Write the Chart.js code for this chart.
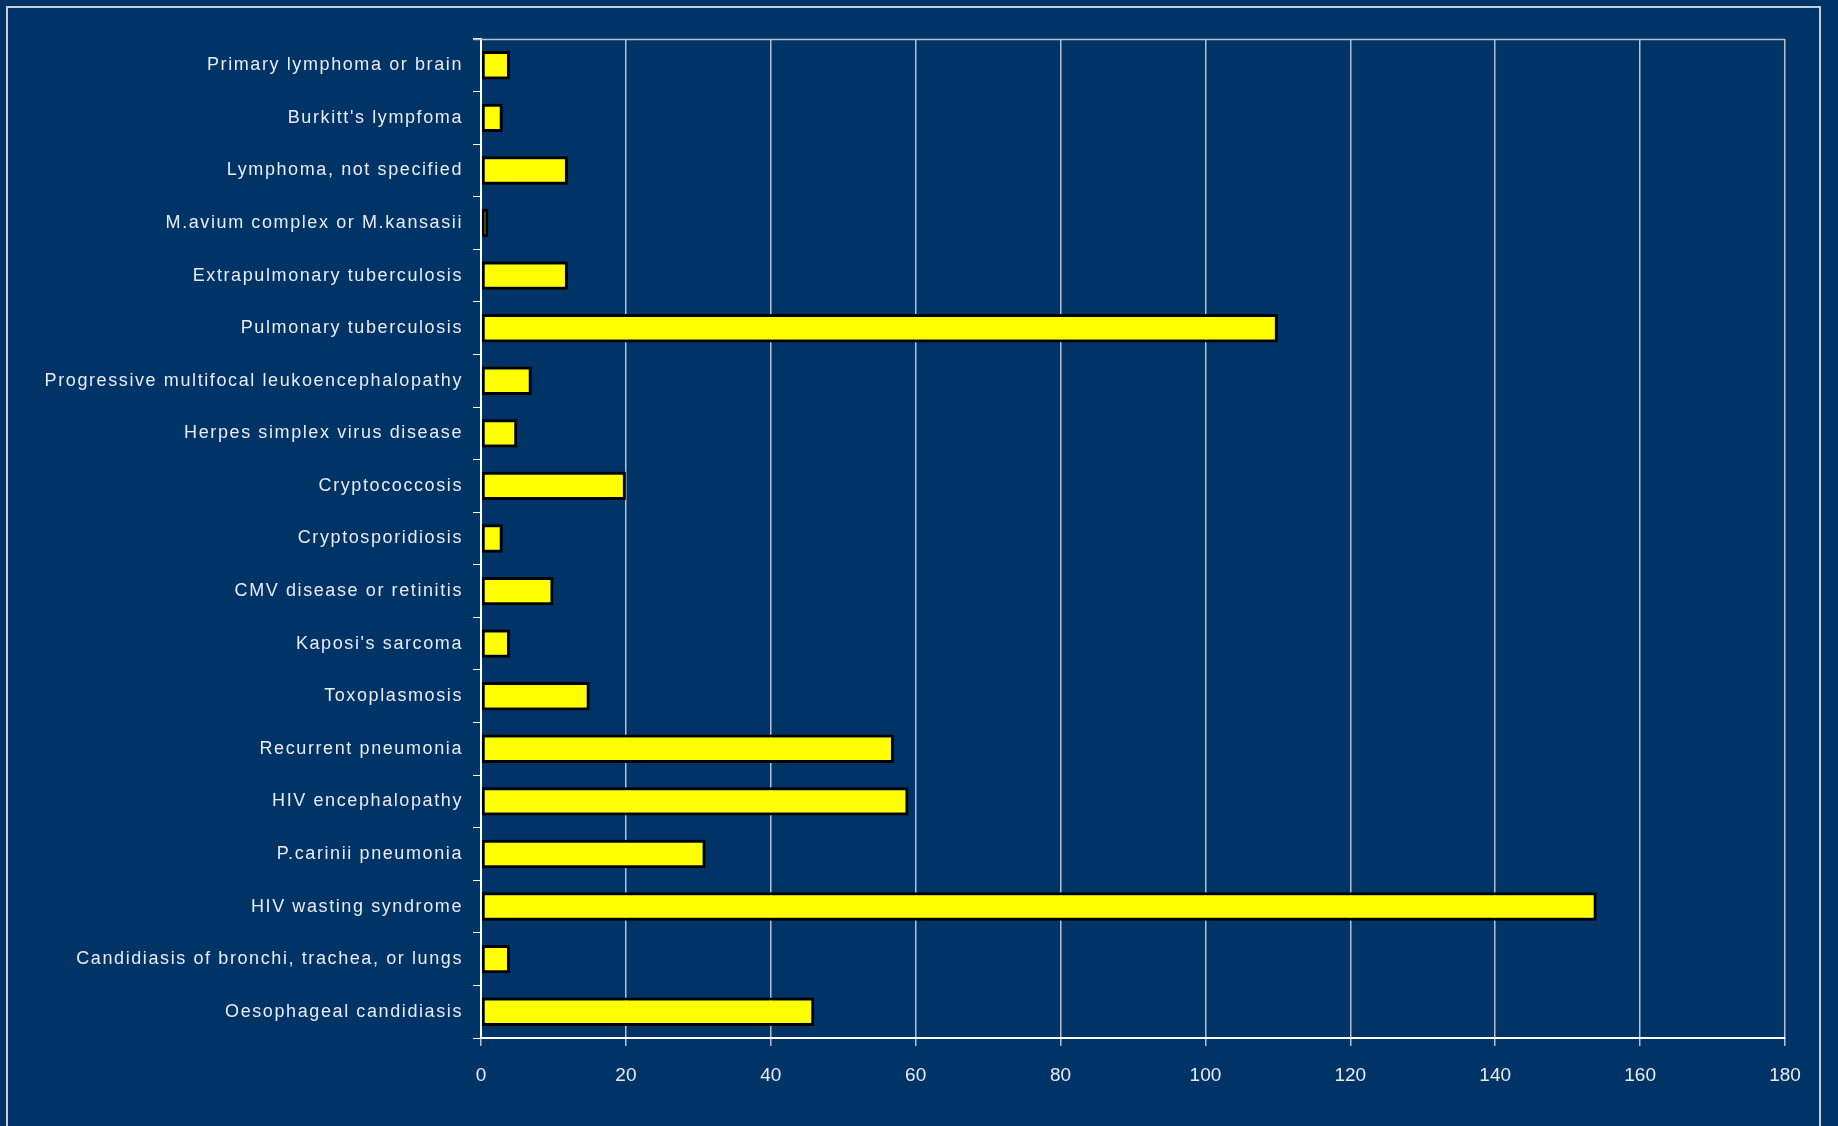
<!DOCTYPE html>
<html>
<head>
<meta charset="utf-8">
<script src="https://cdn.jsdelivr.net/npm/chart.js@4.4.0/dist/chart.umd.min.js"></script>
<style>
  html, body { margin: 0; padding: 0; background: #003366; }
  #wrap { width: 1838px; height: 1126px; }
</style>
</head>
<body>
<div id="wrap"><canvas id="aidsChart" width="1838" height="1126"></canvas></div>
<script>
var categories = [
    'Primary lymphoma or brain',
    "Burkitt's lympfoma",
    'Lymphoma, not specified',
    'M.avium complex or M.kansasii',
    'Extrapulmonary tuberculosis',
    'Pulmonary tuberculosis',
    'Progressive multifocal leukoencephalopathy',
    'Herpes simplex virus disease',
    'Cryptococcosis',
    'Cryptosporidiosis',
    'CMV disease or retinitis',
    "Kaposi's sarcoma",
    'Toxoplasmosis',
    'Recurrent pneumonia',
    'HIV encephalopathy',
    'P.carinii pneumonia',
    'HIV wasting syndrome',
    'Candidiasis of bronchi, trachea, or lungs',
    'Oesophageal candidiasis'
];
var cases = [4, 3, 12, 1, 12, 110, 7, 5, 20, 3, 10, 4, 15, 57, 59, 31, 154, 4, 46];
var xTicks = [0, 20, 40, 60, 80, 100, 120, 140, 160, 180];

var textColor = '#e8ecf4';
var gridColor = '#b4c0d4';
var labelFont = { family: "'Liberation Sans', Arial, sans-serif", size: 18 };

// frame round the picture, top edge of the plot, x tick labels (no letter spacing)
var framePlugin = {
    id: 'frame',
    beforeDraw: function(chart) {
        var ctx = chart.ctx;
        ctx.save();
        ctx.fillStyle = '#003366';
        ctx.fillRect(0, 0, chart.width, chart.height);
        ctx.strokeStyle = '#c8ccd4';
        ctx.lineWidth = 2;
        ctx.strokeRect(7, 7, 1813, 1140);
        ctx.restore();
        ctx.letterSpacing = '1.6px';
    },
    afterDraw: function(chart) {
        var ctx = chart.ctx, a = chart.chartArea;
        var xs = chart.scales.x;
        ctx.save();
        ctx.letterSpacing = '0px';
        ctx.strokeStyle = gridColor;
        ctx.lineWidth = 1.5;
        ctx.beginPath();
        ctx.moveTo(a.left - 8, a.top + 0.5);
        ctx.lineTo(a.right, a.top + 0.5);
        ctx.stroke();
        ctx.fillStyle = textColor;
        ctx.font = '19px ' + labelFont.family;
        ctx.textAlign = 'center';
        ctx.textBaseline = 'middle';
        xTicks.forEach(function(v) {
            ctx.fillText(String(v), xs.getPixelForValue(v), a.bottom + 38);
        });
        ctx.restore();
    }
};

var aidsChart = new Chart(document.getElementById('aidsChart'), {
    type: 'bar',
    data: {
        labels: categories,
        datasets: [
            {
                label: 'Cases',
                backgroundColor: '#ffff00',
                borderColor: '#000000',
                borderWidth: 3,
                borderSkipped: false,
                categoryPercentage: 1,
                barPercentage: 0.54,
                data: cases
            }
        ]
    },
    options: {
        indexAxis: 'y',
        responsive: false,
        animation: false,
        layout: { padding: { top: 39, right: 53, bottom: 0, left: 0 } },
        plugins: {
            legend: { display: false },
            tooltip: { enabled: false }
        },
        scales: {
            x: {
                min: 0,
                max: 180,
                afterBuildTicks: function(axis) {
                    axis.ticks = xTicks.map(function(v) { return { value: v }; });
                },
                afterFit: function(axis) { axis.height = 1126 - 1038; },
                border: { color: '#ffffff', width: 2 },
                grid: { color: gridColor, lineWidth: 1.5, tickLength: 8, tickColor: gridColor },
                ticks: { color: 'rgba(0,0,0,0)', font: labelFont, padding: 4, maxRotation: 0 }
            },
            y: {
                afterFit: function(axis) { axis.width = 481; },
                border: { color: '#ffffff', width: 2 },
                grid: { drawOnChartArea: false, tickLength: 8, tickColor: '#ffffff', offset: true },
                ticks: { color: textColor, font: labelFont, padding: 10, autoSkip: false }
            }
        }
    },
    plugins: [framePlugin]
});
</script>
</body>
</html>
